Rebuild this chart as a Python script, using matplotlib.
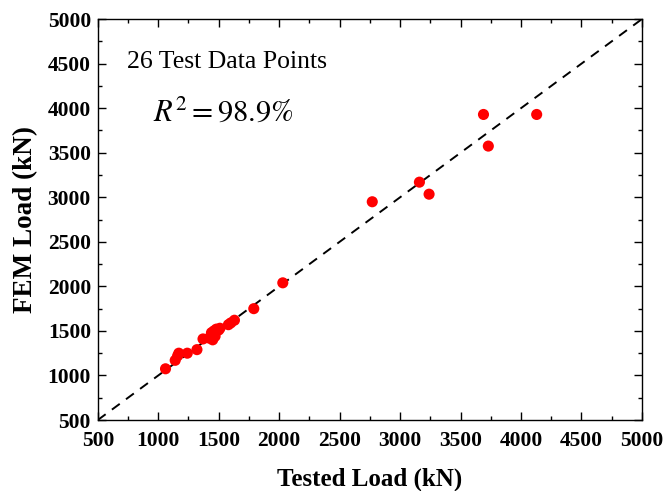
import matplotlib
matplotlib.use("Agg")
import matplotlib.pyplot as plt
from matplotlib.ticker import MultipleLocator

# Tested vs FEM ultimate loads (kN), 26 specimens
tested_load = [1060, 1140, 1160, 1170, 1240, 1320, 1370, 1420, 1440, 1450,
               1460, 1470, 1480, 1500, 1510, 1580, 1600, 1630, 1790, 2030,
               2770, 3160, 3240, 3690, 3730, 4130]
fem_load = [1075, 1170, 1220, 1250, 1250, 1290, 1410, 1420, 1480, 1400,
            1500, 1440, 1520, 1510, 1530, 1570, 1590, 1620, 1750, 2040,
            2950, 3170, 3035, 3930, 3575, 3930]
axis_range = [500, 5000]
tick_values = list(range(500, 5001, 500))

plt.rcParams["font.family"] = ["Liberation Serif", "DejaVu Serif"]
plt.rcParams["mathtext.fontset"] = "stix"

fig = plt.figure(figsize=(6.7, 4.91), dpi=100)
ax = fig.add_axes([0.146, 0.1446, 0.812, 0.8164])

ax.plot(axis_range, axis_range, color="black", lw=1.4, ls=(0, (5, 4)), zorder=1)
ax.scatter(tested_load, fem_load, s=64, color="#ff0000", edgecolors="none", zorder=3)

ax.set_xlim(axis_range)
ax.set_ylim(axis_range)
ax.set_xticks(tick_values)
ax.set_yticks(tick_values)
ax.xaxis.set_minor_locator(MultipleLocator(250))
ax.yaxis.set_minor_locator(MultipleLocator(250))
ax.tick_params(which="both", direction="in", top=True, right=True, width=1)
ax.tick_params(which="major", length=6, labelsize=15.5)
ax.tick_params(which="minor", length=3)
ax.tick_params(axis="x", which="major", pad=8)
ax.tick_params(axis="y", which="major", pad=5)
for lab in ax.get_xticklabels() + ax.get_yticklabels():
    lab.set_fontweight("bold")
for sp in ax.spines.values():
    sp.set_linewidth(1.0)

ax.set_xlabel("Tested Load (kN)", fontsize=18, fontweight="bold", labelpad=12)
ax.set_ylabel("FEM Load (kN)", fontsize=19.5, fontweight="bold", labelpad=7)

ax.text(0.053, 0.893, "26 Test Data Points", transform=ax.transAxes,
        fontsize=18.5, ha="left", va="center")
ax.text(0.101, 0.766, r"$R^2=98.9\%$", transform=ax.transAxes,
        fontsize=22, ha="left", va="center")

fig.savefig("out.png", dpi=100)
